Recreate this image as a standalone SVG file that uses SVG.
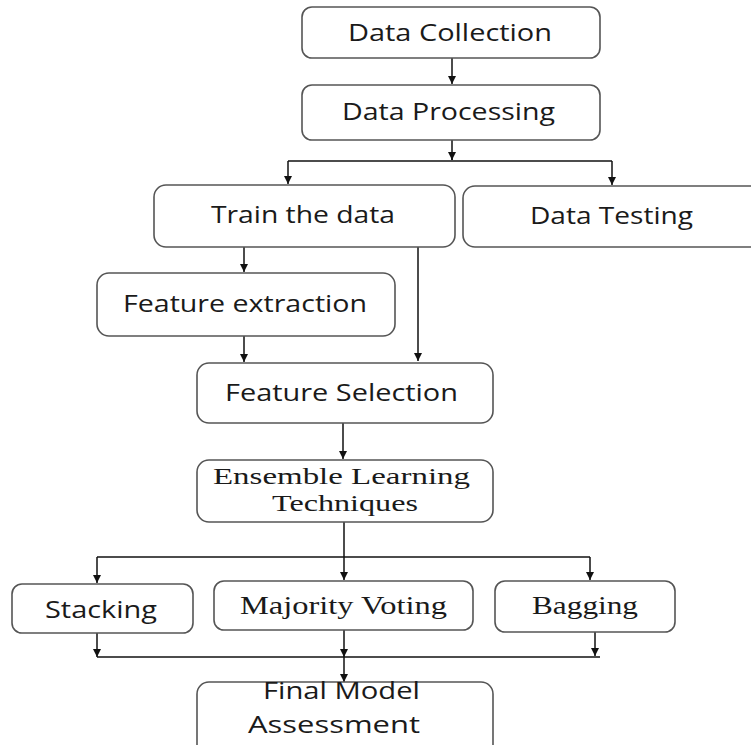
<svg xmlns="http://www.w3.org/2000/svg" width="751" height="745" viewBox="0 0 751 745">
<style>
.box{fill:#fff;stroke:#555;stroke-width:1.6}
.s{font-family:"Open Sans","Liberation Sans",sans-serif;font-size:24px;fill:#1a1a1a}
.t{font-family:"Liberation Serif","Times New Roman",serif;font-size:24px;fill:#1a1a1a}
.t2{font-size:26px}
.c{fill:none;stroke:#111;stroke-width:1.5}
</style>
<defs>
<marker id="a" viewBox="0 0 10 10" refX="10" refY="5" markerWidth="8" markerHeight="8" markerUnits="userSpaceOnUse" orient="auto">
<path d="M0,0 L10,5 L0,10 z" fill="#111"/>
</marker>
</defs>
<rect width="751" height="745" fill="#fff"/>
<g id="connectors">
<path class="c" d="M452,58 V84" marker-end="url(#a)"/>
<path class="c" d="M452,140 V160"/>
<path class="c" d="M452,152 V160" marker-end="url(#a)"/>
<path class="c" d="M288,161 H612"/>
<path class="c" d="M288,161 V184" marker-end="url(#a)"/>
<path class="c" d="M612,161 V185" marker-end="url(#a)"/>
<path class="c" d="M244,247 V272" marker-end="url(#a)"/>
<path class="c" d="M418,247 V361" marker-end="url(#a)"/>
<path class="c" d="M244,336 V362" marker-end="url(#a)"/>
<path class="c" d="M343,423 V459" marker-end="url(#a)"/>
<path class="c" d="M344,522 V557"/>
<path class="c" d="M97,557 H590"/>
<path class="c" d="M97,557 V583" marker-end="url(#a)"/>
<path class="c" d="M344,557 V580" marker-end="url(#a)"/>
<path class="c" d="M590,557 V580" marker-end="url(#a)"/>
<path class="c" d="M97,633 V657" marker-end="url(#a)"/>
<path class="c" d="M344,630 V657" marker-end="url(#a)"/>
<path class="c" d="M595,632 V656" marker-end="url(#a)"/>
<path class="c" d="M97,657 H600"/>
<path class="c" d="M344,657 V682" marker-end="url(#a)"/>
</g>
<g id="data-collection">
<rect class="box" x="302" y="7" width="298" height="51" rx="10"/>
<text class="s" x="348" y="41" textLength="204" lengthAdjust="spacingAndGlyphs">Data Collection</text>
</g>
<g id="data-processing">
<rect class="box" x="302" y="85" width="298" height="55" rx="10"/>
<text class="s" x="342" y="120" textLength="213" lengthAdjust="spacingAndGlyphs">Data Processing</text>
</g>
<g id="train">
<rect class="box" x="154" y="185" width="301" height="62" rx="12"/>
<text class="s" x="211" y="223" textLength="184" lengthAdjust="spacingAndGlyphs">Train the data</text>
</g>
<g id="testing">
<rect class="box" x="463" y="186" width="300" height="61" rx="12"/>
<text class="s" x="530" y="224" textLength="163" lengthAdjust="spacingAndGlyphs">Data Testing</text>
</g>
<g id="feature-extraction">
<rect class="box" x="97" y="273" width="298" height="63" rx="12"/>
<text class="s" x="123" y="312" textLength="244" lengthAdjust="spacingAndGlyphs">Feature extraction</text>
</g>
<g id="feature-selection">
<rect class="box" x="197" y="363" width="296" height="60" rx="12"/>
<text class="s" x="225" y="401" textLength="233" lengthAdjust="spacingAndGlyphs">Feature Selection</text>
</g>
<g id="ensemble">
<rect class="box" x="197" y="460" width="296" height="62" rx="12"/>
<text class="t" x="213" y="484" textLength="257" lengthAdjust="spacingAndGlyphs">Ensemble Learning</text>
<text class="t" x="272" y="511" textLength="146" lengthAdjust="spacingAndGlyphs">Techniques</text>
</g>
<g id="stacking">
<rect class="box" x="12" y="584" width="181" height="49" rx="10"/>
<text class="s" x="45" y="618" textLength="112" lengthAdjust="spacingAndGlyphs">Stacking</text>
</g>
<g id="majority">
<rect class="box" x="214" y="581" width="259" height="49" rx="10"/>
<text class="t t2" x="240" y="614" textLength="207" lengthAdjust="spacingAndGlyphs">Majority  Voting</text>
</g>
<g id="bagging">
<rect class="box" x="495" y="581" width="180" height="51" rx="10"/>
<text class="t t2" x="532" y="614" textLength="106" lengthAdjust="spacingAndGlyphs">Bagging</text>
</g>
<g id="final">
<rect class="box" x="197" y="682" width="296" height="80" rx="12"/>
<text class="s" x="263" y="699" textLength="157" lengthAdjust="spacingAndGlyphs">Final Model</text>
<text class="s" x="248" y="733" textLength="172" lengthAdjust="spacingAndGlyphs">Assessment</text>
</g>
</svg>
